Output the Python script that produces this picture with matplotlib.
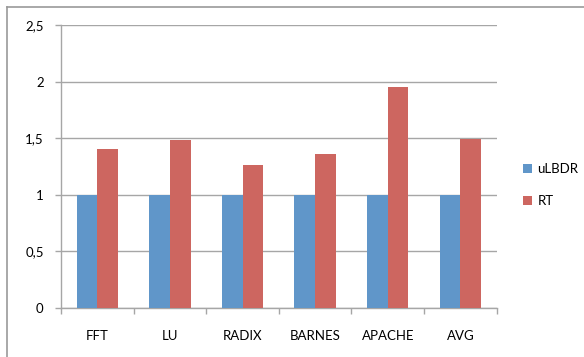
import matplotlib
matplotlib.use("Agg")
import matplotlib.pyplot as plt
from matplotlib.lines import Line2D
from matplotlib.ticker import FuncFormatter
import numpy as np

categories = ["FFT", "LU", "RADIX", "BARNES", "APACHE", "AVG"]
ulbdr = [1.0, 1.0, 1.0, 1.0, 1.0, 1.0]
rt = [1.40, 1.48, 1.26, 1.36, 1.95, 1.49]
yticks = [0, 0.5, 1, 1.5, 2, 2.5]

blue = "#6096C9"
red = "#CD6660"
grid_c = "#A6A6A6"

plt.rcParams["font.family"] = ["Lato", "DejaVu Sans"]

fig = plt.figure(figsize=(5.84, 3.57), dpi=100)
fig.patch.set_facecolor("white")

# outer chart frame (top and left edges visible)
fig.add_artist(Line2D([7 / 584, 1.0], [1 - 7 / 357] * 2, color="#9A9A9A", lw=1.2,
                      transform=fig.transFigure))
fig.add_artist(Line2D([7 / 584] * 2, [0.0, 1 - 7 / 357], color="#9A9A9A", lw=1.2,
                      transform=fig.transFigure))

ax = fig.add_axes([61 / 584, 1 - 307.7 / 357, (496.7 - 61) / 584, (307.7 - 25) / 357])

x = np.arange(len(categories))
w = 0.285
ax.bar(x - w / 2, ulbdr, w, color=blue, label="uLBDR", zorder=3)
ax.bar(x + w / 2, rt, w, color=red, label="RT", zorder=3)

ax.set_xlim(-0.5, len(categories) - 0.5)
ax.set_ylim(0, 2.5)
ax.set_yticks(yticks)
ax.yaxis.set_major_formatter(FuncFormatter(lambda v, p: f"{v:g}".replace(".", ",")))
ax.yaxis.grid(True, color=grid_c, lw=1.0, zorder=0)

ax.set_xticks(np.arange(len(categories) + 1) - 0.5)
ax.set_xticklabels([])
ax.set_xticks(x, minor=True)
ax.set_xticklabels(categories, minor=True)
ax.tick_params(axis="x", which="major", length=4, width=1, color=grid_c, direction="out")
ax.tick_params(axis="x", which="minor", length=0, pad=16, labelsize=9.5)
ax.tick_params(axis="y", length=4, width=1, color=grid_c, pad=8.5, labelsize=9.5)

for s in ["top", "right"]:
    ax.spines[s].set_visible(False)
for s in ["left", "bottom"]:
    ax.spines[s].set_color(grid_c)
    ax.spines[s].set_linewidth(1.0)

ax.legend(loc="center left", bbox_to_anchor=(1.033, 0.433), frameon=False,
          fontsize=9.5, handlelength=0.7, handleheight=0.7, handletextpad=0.4,
          labelspacing=1.5)

fig.savefig("out.png", dpi=100)
